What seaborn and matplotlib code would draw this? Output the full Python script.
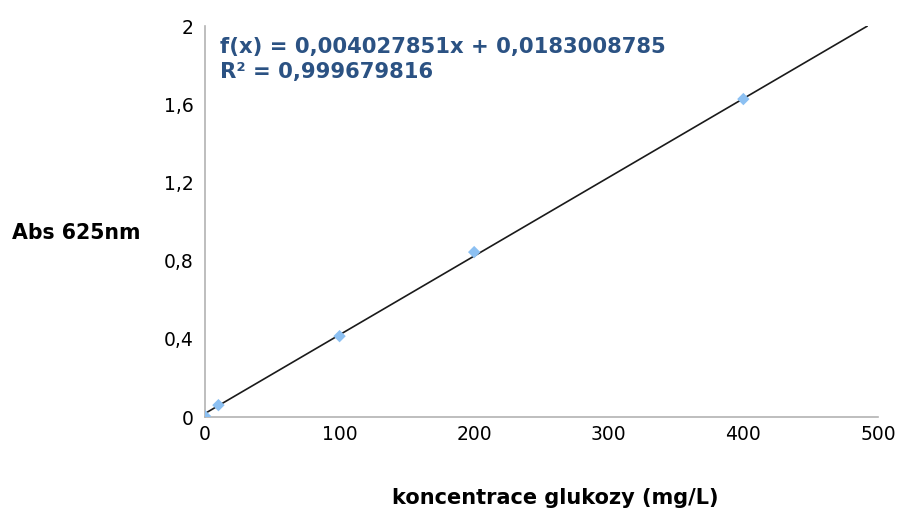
import numpy as np
import pandas as pd
import seaborn as sns
import matplotlib.pyplot as plt

# calibration data
conc = [0, 10, 100, 200, 400]
absorb = [0.005, 0.061, 0.414, 0.844, 1.627]
slope = 0.004027851
intercept = 0.0183008785
fit_x = [0, 492]

x_ticks = [0, 100, 200, 300, 400, 500]
y_ticks = [0, 0.4, 0.8, 1.2, 1.6, 2]
y_labels = ["0", "0,4", "0,8", "1,2", "1,6", "2"]

sns.set_theme(style="white")
plt.rcParams['font.family'] = ['DejaVu Sans']
plt.rcParams['text.color'] = 'black'
plt.rcParams['xtick.labelcolor'] = 'black'
plt.rcParams['ytick.labelcolor'] = 'black'

df = pd.DataFrame({"conc": conc, "abs": absorb})
fit = pd.DataFrame({"conc": fit_x, "abs": [slope * v + intercept for v in fit_x]})

fig = plt.figure(figsize=(8.99, 5.13), dpi=100)
ax = fig.add_axes([0.228, 0.187, 0.7486, 0.762])

sns.lineplot(data=fit, x="conc", y="abs", ax=ax, color="#1a1a1a", linewidth=1.2)
sns.scatterplot(data=df, x="conc", y="abs", ax=ax, marker="D", s=40,
                color="#8cc0f2", edgecolor="none", zorder=3)

ax.set_xlim(0, 500)
ax.set_ylim(0, 2)
ax.set_xticks(x_ticks)
ax.set_xticklabels([str(v) for v in x_ticks])
ax.set_yticks(y_ticks)
ax.set_yticklabels(y_labels)
ax.tick_params(axis="x", direction="in", length=5, color="#b3b3b3", labelsize=13.5, pad=6)
ax.tick_params(axis="y", length=0, labelsize=13.5, pad=8)
for s in ["top", "right"]:
    ax.spines[s].set_visible(False)
for s in ["left", "bottom"]:
    ax.spines[s].set_color("#b3b3b3")
    ax.spines[s].set_linewidth(1.2)

ax.set_xlabel("koncentrace glukozy (mg/L)", fontsize=15, fontweight="bold",
              color="black")
ax.xaxis.set_label_coords(0.52, -0.182)
ax.set_ylabel("Abs 625nm", fontsize=14.8, fontweight="bold", rotation=0,
              ha="left", va="center", color="black")
ax.yaxis.set_label_coords(-0.287, 0.47)

ax.text(0.022, 0.973, "f(x) = 0,004027851x + 0,0183008785\nR² = 0,999679816",
        transform=ax.transAxes, ha="left", va="top", fontsize=15.2,
        fontweight="bold", color="#2b5283", linespacing=1.3)

fig.savefig("out.png", dpi=100)
